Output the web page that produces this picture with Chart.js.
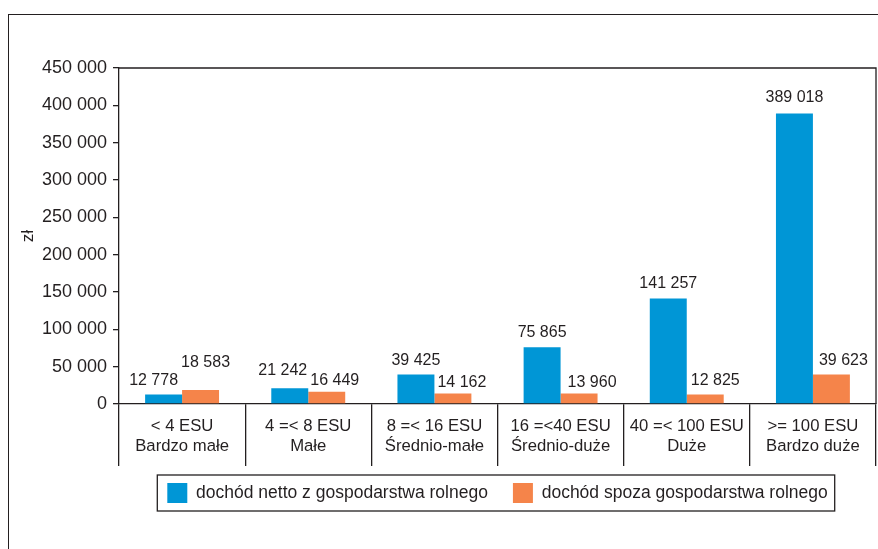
<!DOCTYPE html>
<html lang="pl">
<head>
<meta charset="utf-8">
<title>Dochody gospodarstw rolnych według klas wielkości ekonomicznej</title>
<script src="https://cdn.jsdelivr.net/npm/chart.js@4.4.1/dist/chart.umd.min.js"></script>
<style>
    html, body { margin: 0; padding: 0; background: #fff; }
    #wrap { position: relative; width: 878px; height: 549px; }
    #frame {
        position: absolute; left: 8px; top: 14px; right: 0; bottom: 0;
        border-top: 1.5px solid #231f20; border-left: 1.5px solid #231f20;
    }
    #incomeChart { position: absolute; left: 0; top: 0; }
</style>
</head>
<body>
<div id="wrap">
    <div id="frame"></div>
    <canvas id="incomeChart" width="878" height="549"></canvas>
</div>
<script>
const categories = [
    ['< 4 ESU', 'Bardzo małe'],
    ['4 =< 8 ESU', 'Małe'],
    ['8 =< 16 ESU', 'Średnio-małe'],
    ['16 =<40 ESU', 'Średnio-duże'],
    ['40 =< 100 ESU', 'Duże'],
    ['>= 100 ESU', 'Bardzo duże']
];
const farmIncome = [12778, 21242, 39425, 75865, 141257, 389018];
const offFarmIncome = [18583, 16449, 14162, 13960, 12825, 39623];
const seriesNames = ['dochód netto z gospodarstwa rolnego', 'dochód spoza gospodarstwa rolnego'];
const yTicks = [0, 50000, 100000, 150000, 200000, 250000, 300000, 350000, 400000, 450000];

const FONT = '"Liberation Sans", Arial, Helvetica, sans-serif';
const INK = '#231f20';

function fmt(v) {
    return String(v).replace(/\B(?=(\d{3})+(?!\d))/g, ' ');
}

// number above each bar, nudged a little so neighbouring labels don't collide
const valueLabels = {
    id: 'valueLabels',
    afterDatasetsDraw(chart, args, opts) {
        const ctx = chart.ctx;
        ctx.save();
        ctx.font = '16px ' + FONT;
        ctx.fillStyle = INK;
        ctx.textAlign = 'center';
        ctx.textBaseline = 'middle';
        chart.data.datasets.forEach((ds, i) => {
            const meta = chart.getDatasetMeta(i);
            meta.data.forEach((bar, j) => {
                const [dx, dy] = opts.shift[i][j];
                ctx.fillText(fmt(ds.data[j]), bar.x + dx, bar.y - 14 + dy);
            });
        });
        ctx.restore();
    }
};

// top and right edge of the plot box, plus the border round the legend
const boxLines = {
    id: 'boxLines',
    afterDraw(chart) {
        const {ctx, chartArea} = chart;
        ctx.save();
        ctx.strokeStyle = INK;
        ctx.lineWidth = 1.3;
        ctx.beginPath();
        ctx.moveTo(chartArea.left - 1, chartArea.top);
        ctx.lineTo(chartArea.right, chartArea.top);
        ctx.lineTo(chartArea.right, chartArea.bottom);
        ctx.stroke();

        const boxes = chart.legend.legendHitBoxes;
        if (boxes && boxes.length) {
            const left = Math.min(...boxes.map(b => b.left)) - 10;
            const right = Math.max(...boxes.map(b => b.left + b.width)) + 7;
            const top = Math.min(...boxes.map(b => b.top)) - 8;
            const bottom = Math.max(...boxes.map(b => b.top + b.height)) + 8;
            ctx.strokeRect(left, top, right - left, bottom - top);
        }
        ctx.restore();
    }
};

const chart = new Chart(document.getElementById('incomeChart'), {
    type: 'bar',
    data: {
        labels: categories,
        datasets: [{
            label: seriesNames[0],
            data: farmIncome,
            backgroundColor: '#0096d6',
            borderWidth: 0
        }, {
            label: seriesNames[1],
            data: offFarmIncome,
            backgroundColor: '#f5844a',
            borderWidth: 0
        }]
    },
    options: {
        responsive: false,
        animation: false,
        events: [],
        layout: {
            padding: { left: 0, top: 68, right: 2, bottom: 36 }
        },
        datasets: {
            bar: { barPercentage: 1, categoryPercentage: 0.586 }
        },
        scales: {
            x: {
                grid: {
                    offset: true,
                    drawOnChartArea: false,
                    tickLength: 62,
                    color: INK,
                    lineWidth: 1.3
                },
                border: { color: INK, width: 1.3 },
                ticks: {
                    color: INK,
                    padding: -50,
                    maxRotation: 0,
                    autoSkip: false,
                    font: { family: FONT, size: 16.7, lineHeight: 1.2 }
                },
                afterFit(scale) { scale.height = 54; }
            },
            y: {
                min: 0,
                max: 450000,
                afterBuildTicks(scale) {
                    scale.ticks = yTicks.map(v => ({ value: v }));
                },
                grid: {
                    drawOnChartArea: false,
                    tickLength: 6,
                    color: INK,
                    lineWidth: 1.3
                },
                border: { color: INK, width: 1.3 },
                ticks: {
                    color: INK,
                    padding: 6,
                    font: { family: FONT, size: 18 },
                    callback: v => fmt(v)
                },
                title: {
                    display: true,
                    text: 'zł',
                    color: INK,
                    padding: { top: 18, bottom: 0 },
                    font: { family: FONT, size: 17 }
                },
                afterFit(scale) { scale.width = 119; }
            }
        },
        plugins: {
            legend: {
                position: 'bottom',
                fullSize: false,
                labels: {
                    color: INK,
                    boxWidth: 20,
                    boxHeight: 20,
                    padding: 25,
                    font: { family: FONT, size: 17.5 }
                }
            },
            tooltip: { enabled: false },
            valueLabels: {
                shift: [
                    [[-10, 0], [-7, -4], [0, 0], [0, -1], [0, -1], [0, -2]],
                    [[5, -14], [8, 3], [9, 3], [13, 3], [10, 0], [12, 0]]
                ]
            }
        }
    },
    plugins: [valueLabels, boxLines]
});
</script>
</body>
</html>
